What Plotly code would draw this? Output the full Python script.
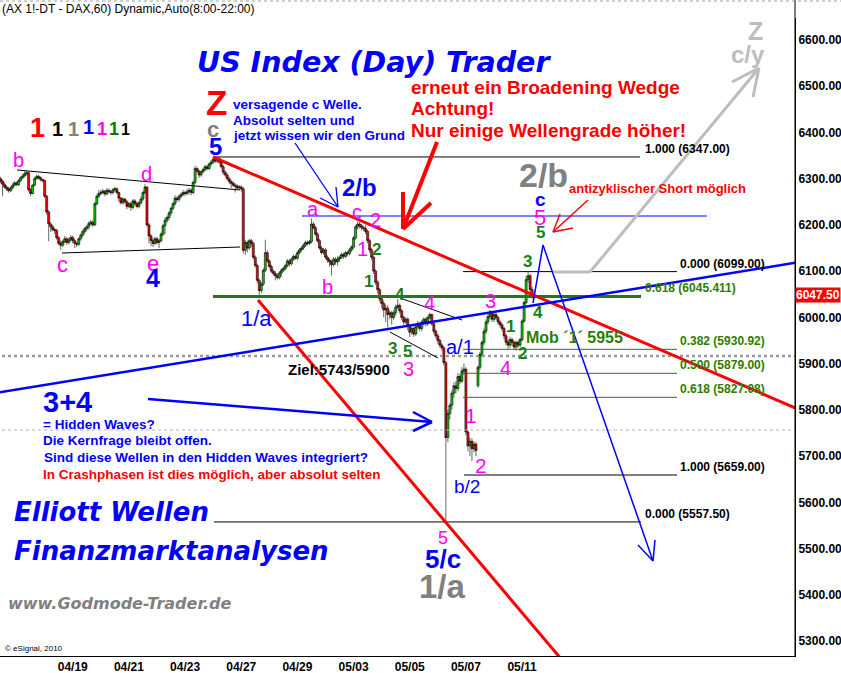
import plotly.graph_objects as go

# ---------------- data (hourly FDAX candles, 8:00-22:00, 14 bars/day) ----------------
DAYS = ["04/15", "04/16", "04/19", "04/20", "04/21", "04/22", "04/23", "04/26", "04/27",
        "04/28", "04/29", "04/30", "05/03", "05/04", "05/05", "05/06", "05/07", "05/10", "05/11"]
BARS_PER_DAY = 14

OPEN = [
    6300, 6295, 6288, 6282, 6278, 6274, 6280, 6286, 6291, 6287, 6296, 6302, 6306, 6311,
    6313, 6276, 6268, 6286, 6300, 6305, 6302, 6298, 6296, 6262, 6228, 6202, 6196, 6190,
    6188, 6172, 6160, 6156, 6164, 6170, 6162, 6168, 6173, 6166, 6160, 6158, 6170, 6178,
    6186, 6192, 6196, 6203, 6206, 6200, 6246, 6262, 6268, 6270, 6273, 6267, 6275, 6272,
    6270, 6276, 6278, 6270, 6258, 6248, 6256, 6250, 6240, 6246, 6238, 6252, 6246, 6240,
    6248, 6256, 6270, 6282, 6200, 6176, 6166, 6160, 6170, 6162, 6166, 6180, 6198, 6210,
    6216, 6226, 6236, 6246, 6258, 6255, 6262, 6266, 6270, 6268, 6272, 6275, 6270, 6292,
    6322, 6316, 6308, 6315, 6320, 6326, 6322, 6332, 6336, 6342, 6338, 6344, 6336, 6326,
    6314, 6308, 6300, 6294, 6290, 6286, 6284, 6280, 6282, 6278, 6145, 6162, 6150, 6166,
    6160, 6130, 6112, 6080, 6058, 6072, 6102, 6140, 6122, 6110, 6100, 6095, 6090, 6086,
    6096, 6102, 6106, 6112, 6122, 6116, 6126, 6132, 6128, 6140, 6146, 6150, 6156, 6162,
    6160, 6164, 6202, 6194, 6180, 6166, 6150, 6140, 6146, 6130, 6124, 6120, 6114, 6126,
    6120, 6126, 6130, 6136, 6132, 6140, 6138, 6146, 6152, 6172, 6196, 6202, 6198, 6194,
    6192, 6186, 6166, 6146, 6130, 6100, 6076, 6060, 6040, 6030, 6016, 6020, 6006, 6010,
    6000, 6010, 6022, 6026, 6014, 6000, 5990, 5996, 5980, 5968, 5976, 5964, 5980, 5986,
    5976, 5990, 5996, 5986, 6000, 6006, 5986, 5970, 5960, 5950, 5940, 5934, 5902, 5740,
    5792, 5810, 5836, 5852, 5846, 5872, 5862, 5884, 5888, 5752, 5722, 5732, 5716, 5726,
    5852, 5892, 5920, 5946, 5970, 5990, 6002, 6012, 5996, 6006, 6000, 5990, 5984, 5976,
    5960, 5946, 5940, 5952, 5946, 5936, 5946, 5940, 5952, 5992, 6032, 6082, 6090, 6060,
]
HIGH = [
    6304, 6298, 6292, 6286, 6282, 6284, 6290, 6295, 6294, 6299, 6305, 6310, 6316, 6317,
    6315, 6280, 6288, 6304, 6309, 6308, 6305, 6300, 6298, 6265, 6232, 6206, 6200, 6194,
    6192, 6176, 6166, 6168, 6176, 6174, 6172, 6178, 6177, 6170, 6164, 6174, 6182, 6190,
    6196, 6200, 6208, 6211, 6210, 6250, 6266, 6275, 6276, 6278, 6276, 6280, 6279, 6276,
    6280, 6282, 6281, 6272, 6260, 6260, 6258, 6254, 6250, 6250, 6256, 6256, 6250, 6252,
    6262, 6274, 6288, 6284, 6204, 6180, 6172, 6174, 6174, 6170, 6184, 6202, 6216, 6220,
    6230, 6240, 6250, 6264, 6262, 6266, 6270, 6276, 6274, 6278, 6280, 6279, 6296, 6328,
    6326, 6320, 6318, 6324, 6330, 6330, 6335, 6340, 6346, 6347, 6347, 6346, 6340, 6330,
    6318, 6312, 6304, 6298, 6294, 6290, 6288, 6286, 6286, 6282, 6168, 6166, 6170, 6170,
    6164, 6134, 6116, 6084, 6076, 6106, 6168, 6145, 6126, 6114, 6104, 6100, 6094, 6100,
    6106, 6110, 6116, 6126, 6126, 6130, 6136, 6136, 6144, 6150, 6154, 6160, 6166, 6166,
    6168, 6214, 6206, 6198, 6184, 6170, 6154, 6150, 6150, 6134, 6128, 6124, 6130, 6130,
    6132, 6134, 6140, 6140, 6144, 6144, 6150, 6156, 6176, 6200, 6207, 6206, 6202, 6198,
    6200, 6190, 6170, 6150, 6134, 6104, 6080, 6064, 6046, 6036, 6028, 6026, 6016, 6014,
    6016, 6028, 6040, 6030, 6018, 6004, 6000, 6000, 5984, 5980, 5980, 5984, 5992, 5990,
    5994, 6000, 6000, 6004, 6010, 6008, 5990, 5974, 5964, 5954, 5944, 5938, 5906, 5800,
    5815, 5842, 5860, 5862, 5880, 5878, 5892, 5900, 5892, 5756, 5740, 5738, 5732, 5730,
    5896, 5926, 5950, 5976, 5996, 6008, 6016, 6014, 6010, 6010, 6004, 5994, 5988, 5980,
    5964, 5952, 5958, 5956, 5950, 5950, 5950, 5956, 5996, 6036, 6090, 6099, 6094, 6066,
]
LOW = [
    6290, 6262, 6279, 6274, 6270, 6271, 6277, 6283, 6284, 6284, 6293, 6299, 6303, 6307,
    6272, 6262, 6266, 6284, 6298, 6298, 6294, 6292, 6258, 6222, 6165, 6185, 6186, 6180,
    6168, 6156, 6146, 6152, 6160, 6157, 6158, 6164, 6160, 6150, 6152, 6155, 6166, 6174,
    6180, 6186, 6190, 6198, 6196, 6198, 6242, 6258, 6264, 6266, 6262, 6264, 6268, 6265,
    6266, 6272, 6266, 6250, 6244, 6244, 6246, 6234, 6236, 6230, 6234, 6242, 6236, 6236,
    6244, 6252, 6266, 6196, 6160, 6154, 6152, 6156, 6158, 6150, 6162, 6176, 6180, 6204,
    6210, 6220, 6232, 6242, 6250, 6250, 6258, 6262, 6262, 6264, 6266, 6264, 6266, 6288,
    6312, 6302, 6304, 6312, 6316, 6318, 6318, 6328, 6332, 6334, 6334, 6332, 6322, 6308,
    6304, 6296, 6288, 6280, 6282, 6270, 6276, 6276, 6272, 6138, 6135, 6140, 6146, 6152,
    6126, 6108, 6074, 6043, 6052, 6068, 6098, 6118, 6106, 6096, 6090, 6080, 6082, 6082,
    6088, 6098, 6102, 6108, 6110, 6112, 6122, 6124, 6124, 6136, 6142, 6146, 6152, 6155,
    6156, 6160, 6190, 6176, 6162, 6146, 6136, 6136, 6126, 6118, 6110, 6091, 6110, 6114,
    6112, 6120, 6126, 6126, 6128, 6132, 6134, 6142, 6148, 6168, 6190, 6192, 6188, 6186,
    6180, 6160, 6140, 6124, 6094, 6070, 6052, 6034, 6020, 6000, 5990, 5978, 5996, 5984,
    5994, 6004, 6018, 6008, 5994, 5984, 5986, 5972, 5957, 5962, 5958, 5960, 5974, 5970,
    5970, 5984, 5980, 5982, 5996, 5982, 5964, 5954, 5942, 5934, 5928, 5896, 5557.5, 5730,
    5780, 5800, 5826, 5836, 5840, 5856, 5858, 5876, 5745, 5710, 5700, 5689, 5708, 5700,
    5848, 5886, 5914, 5940, 5964, 5984, 5996, 5990, 5990, 5994, 5984, 5978, 5970, 5952,
    5940, 5930, 5934, 5938, 5930, 5928, 5934, 5936, 5948, 5988, 6028, 6074, 6052, 6040,
]
CLOSE = [
    6295, 6288, 6282, 6278, 6274, 6280, 6286, 6291, 6287, 6296, 6302, 6306, 6311, 6313,
    6276, 6268, 6286, 6300, 6305, 6302, 6298, 6296, 6262, 6228, 6202, 6196, 6190, 6188,
    6172, 6160, 6156, 6164, 6170, 6162, 6168, 6173, 6166, 6160, 6158, 6170, 6178, 6186,
    6192, 6196, 6203, 6206, 6200, 6246, 6262, 6268, 6270, 6273, 6267, 6275, 6272, 6270,
    6276, 6278, 6270, 6258, 6248, 6256, 6250, 6240, 6246, 6238, 6252, 6246, 6240, 6248,
    6256, 6270, 6282, 6200, 6176, 6166, 6160, 6170, 6162, 6166, 6180, 6198, 6210, 6216,
    6226, 6236, 6246, 6258, 6255, 6262, 6266, 6270, 6268, 6272, 6275, 6270, 6292, 6322,
    6316, 6308, 6315, 6320, 6326, 6322, 6332, 6336, 6342, 6338, 6344, 6336, 6326, 6314,
    6308, 6300, 6294, 6290, 6286, 6284, 6280, 6282, 6278, 6145, 6162, 6150, 6166, 6160,
    6130, 6112, 6080, 6058, 6072, 6102, 6140, 6122, 6110, 6100, 6095, 6090, 6086, 6096,
    6102, 6106, 6112, 6122, 6116, 6126, 6132, 6128, 6140, 6146, 6150, 6156, 6162, 6160,
    6164, 6202, 6194, 6180, 6166, 6150, 6140, 6146, 6130, 6124, 6120, 6114, 6126, 6120,
    6126, 6130, 6136, 6132, 6140, 6138, 6146, 6152, 6172, 6196, 6202, 6198, 6194, 6192,
    6186, 6166, 6146, 6130, 6100, 6076, 6060, 6040, 6030, 6016, 6020, 6006, 6010, 6000,
    6010, 6022, 6026, 6014, 6000, 5990, 5996, 5980, 5968, 5976, 5964, 5980, 5986, 5976,
    5990, 5996, 5986, 6000, 6006, 5986, 5970, 5960, 5950, 5940, 5934, 5902, 5740, 5792,
    5810, 5836, 5852, 5846, 5872, 5862, 5884, 5888, 5752, 5722, 5732, 5716, 5726, 5712,
    5892, 5920, 5946, 5970, 5990, 6002, 6012, 5996, 6006, 6000, 5990, 5984, 5976, 5960,
    5946, 5940, 5952, 5946, 5936, 5946, 5940, 5952, 5992, 6032, 6082, 6090, 6060, 6047.5,
]

X_TICK_LABELS = ["04/19", "04/21", "04/23", "04/27", "04/29", "05/03", "05/05", "05/07", "05/11"]
Y_TICKS = [5300, 5400, 5500, 5600, 5700, 5800, 5900, 6000, 6100, 6200, 6300, 6400, 6500, 6600]
LAST_PRICE = 6047.50

FIB_LEVELS = [6347.00, 6099.00, 6045.411, 5930.92, 5879.00, 5827.08, 5659.00, 5557.50]
FIB_TEXTS = ["1.000 (6347.00)", "0.000 (6099.00)", "0.618 (6045.411)", "0.382 (5930.92)",
             "0.500 (5879.00)", "0.618 (5827.08)", "1.000 (5659.00)", "0.000 (5557.50)"]

# ---------------- geometry helpers (screen position -> data coordinates) ----------------
PX_PER_BAR = 2.006
BAR0_PX = 0.54
PX_PER_PT = 0.4623


def X(px):
    return (px - BAR0_PX) / PX_PER_BAR


def Y(py):
    return 6600 - (py - 40) / PX_PER_PT


ARIAL = "Liberation Sans, Arial, sans-serif"
VERD = "DejaVu Sans, Verdana, sans-serif"
RED = "#ff0000"
BLUE = "#0000ff"
MAG = "#ff00ff"
GRN = "#1a7f1a"
FGRN = "#2e7d00"
GRAY = "#808080"
LGRAY = "#bdbdbd"

xs = list(range(len(CLOSE)))
tickvals = [DAYS.index(d) * BARS_PER_DAY + 8 for d in X_TICK_LABELS]

fig = go.Figure()
fig.add_trace(go.Candlestick(
    x=xs, open=OPEN, high=HIGH, low=LOW, close=CLOSE,
    increasing=dict(fillcolor="#00d000", line=dict(color="black", width=0.6)),
    decreasing=dict(fillcolor="#ff0000", line=dict(color="black", width=0.6)),
    whiskerwidth=0, showlegend=False, hoverinfo="skip",
))

shapes = []


def L(p1, p2, color, width, dash="solid"):
    shapes.append(dict(type="line", xref="x", yref="y",
                       x0=X(p1[0]), y0=Y(p1[1]), x1=X(p2[0]), y1=Y(p2[1]),
                       line=dict(color=color, width=width, dash=dash), layer="above"))


def HL(level, px0, px1, color, width, dash="solid"):
    shapes.append(dict(type="line", xref="x", yref="y",
                       x0=X(px0), y0=level, x1=X(px1), y1=level,
                       line=dict(color=color, width=width, dash=dash), layer="above"))


# horizontal reference lines
HL(Y(356), -10, 900, "#9a9a9a", 2.5, "dot")
HL(Y(430), -10, 900, "#b4b4b4", 1, "dot")
HL(Y(216), 302, 707, BLUE, 1)

fib_spans = [(213, 640), (463, 677), (213, 641), (463, 677), (463, 677), (463, 677), (464, 677), (214, 641)]
fib_colors = ["black", "black", "#1f7a1f", "#1f7a1f", "#1f7a1f", "#1f7a1f", "black", "black"]
fib_widths = [1, 1, 3, 1, 1, 1, 1, 1]
for lvl, (a, b), col, w in zip(FIB_LEVELS, fib_spans, fib_colors, fib_widths):
    HL(lvl, a, b, col, w)

# triangle / wedge lines
L((17, 170), (240, 190), "black", 1)
L((62, 253), (240, 247), "black", 1)
L((400, 298), (462, 320), "black", 1)
L((390, 332), (438, 358), "black", 1)

# red trend lines
L((213, 157), (800, 410), RED, 3)
L((258, 300), (562, 660), RED, 3)
# blue rising trend line
L((-5, 393), (800, 262), BLUE, 2.5)

# blue arrow towards hidden waves
L((148, 399), (432, 422), BLUE, 2.5)
L((413, 412), (432, 422), BLUE, 2.5)
L((413, 431), (432, 422), BLUE, 2.5)

# thin blue arrow from comment to 2/b
L((295, 143), (338, 207), BLUE, 1.3)
L((320, 198), (338, 207), BLUE, 1.3)
L((336, 187), (338, 207), BLUE, 1.3)

# big red arrow
L((437, 142), (403, 229), RED, 4)
L((403, 192), (403, 229), RED, 4)
L((431, 203), (403, 229), RED, 4)

# small red arrow
L((588, 200), (553, 232), RED, 1.5)
L((560, 214), (553, 232), RED, 1.5)
L((573, 228), (553, 232), RED, 1.5)

# blue projected zigzag
L((533, 303), (543, 245), BLUE, 1.5)
L((543, 245), (653, 561), BLUE, 1.5)
L((638, 545), (653, 561), BLUE, 1.5)
L((655, 540), (653, 561), BLUE, 1.5)

# grey projected arrow
L((553, 272), (590, 272), LGRAY, 3)
L((590, 272), (759, 68), LGRAY, 3)
L((732, 82), (759, 68), LGRAY, 3)
L((753, 97), (759, 68), LGRAY, 3)

# frame lines in paper space
PLOT_H = 638
shapes.append(dict(type="line", xref="paper", yref="paper", x0=1, x1=1, y0=0, y1=1 + 18 / PLOT_H,
                   line=dict(color="black", width=1)))
shapes.append(dict(type="line", xref="paper", yref="paper", x0=0, x1=841 / 795, y0=1 + 17 / PLOT_H,
                   y1=1 + 17 / PLOT_H, line=dict(color="#a0a0a0", width=1, dash="dot")))

ann = []


def T(px, py, text, color, size, bold=True, italic=False, family=ARIAL, xanchor="center"):
    t = text
    if bold:
        t = "<b>" + t + "</b>"
    if italic:
        t = "<i>" + t + "</i>"
    ann.append(dict(x=X(px), y=Y(py), xref="x", yref="y", text=t, showarrow=False,
                    font=dict(family=family, size=size, color=color),
                    xanchor=xanchor, yanchor="middle"))


# titles
T(374, 62, "US Index (Day) Trader", BLUE, 28.5, True, True, VERD)
T(12, 512, "Elliott Wellen", BLUE, 26, True, True, VERD, "left")
T(12, 551, "Finanzmarktanalysen", BLUE, 26, True, True, VERD, "left")
T(6, 603, "www.Godmode-Trader.de", GRAY, 16, True, True, VERD, "left")

# comment blocks
T(216, 102, "Z", RED, 35)
T(213, 129, "c", GRAY, 22)
T(215, 146, "5", BLUE, 24)
T(231, 104, "versagende c Welle.", BLUE, 13.5, xanchor="left")
T(231, 120, "Absolut selten und", BLUE, 13.5, xanchor="left")
T(231, 135, "jetzt wissen wir den Grund", BLUE, 13.5, xanchor="left")
T(409, 87, "erneut ein Broadening Wedge", RED, 19, xanchor="left")
T(409, 108, "Achtung!", RED, 19, xanchor="left")
T(409, 130, "Nur einige Wellengrade höher!", RED, 19, xanchor="left")

T(67, 402, "3+4", BLUE, 29)
T(41, 424, "= Hidden Waves?", BLUE, 13.5, xanchor="left")
T(41, 440, "Die Kernfrage bleibt offen.", BLUE, 13.5, xanchor="left")
T(42, 457, "Sind diese Wellen in den Hidden Waves integriert?", BLUE, 13.5, xanchor="left")
T(41, 474, "In Crashphasen ist dies möglich, aber absolut selten", RED, 13.5, xanchor="left")

T(286, 369, "Ziel:5743/5900", "black", 15, xanchor="left")
T(524, 337, "Mob ´1´ 5955", FGRN, 16, xanchor="left")
T(567, 188, "antizyklischer Short möglich", RED, 13, xanchor="left")

# degree legend
T(37, 128, "1", RED, 27)
T(57, 129, "1", "black", 20)
T(73, 129, "1", GRAY, 20)
T(88, 127, "1", BLUE, 20)
T(102, 129, "1", MAG, 18)
T(114, 129, "1", "#008000", 18)
T(125, 129, "1", "black", 16)

# wave labels
for txt, px, py, col, sz, b in [
    ("b", 18, 160, MAG, 20, False), ("c", 62, 264, MAG, 22, False),
    ("d", 146, 174, MAG, 20, False), ("e", 153, 263, MAG, 22, False),
    ("4", 153, 278, BLUE, 25, True), ("1/a", 256, 318, BLUE, 22, False),
    ("a", 313, 209, MAG, 20, False), ("b", 327, 287, MAG, 20, False),
    ("c", 357, 212, MAG, 20, False), ("2", 375, 220, MAG, 20, False),
    ("1", 362, 249, MAG, 20, False), ("2", 376, 249, GRN, 17, True),
    ("1", 368, 281, GRN, 17, True), ("4", 400, 294, GRN, 17, True),
    ("4", 429, 303, MAG, 20, False), ("3", 392, 348, GRN, 17, True),
    ("5", 407, 351, GRN, 17, True), ("3", 408, 369, MAG, 20, False),
    ("a/1", 460, 347, BLUE, 20, False), ("3", 490, 301, MAG, 20, False),
    ("1", 510, 326, GRN, 17, True), ("2", 522, 353, GRN, 17, True),
    ("4", 505, 368, MAG, 20, False), ("1", 471, 415, MAG, 21, False),
    ("2", 481, 465, MAG, 21, False), ("b/2", 467, 486, BLUE, 19, False),
    ("3", 527, 261, GRN, 17, True), ("4", 538, 312, GRN, 17, True),
    ("5", 540, 232, GRN, 17, True), ("5", 540, 217, MAG, 22, False),
    ("c", 540, 199, BLUE, 19, True), ("2/b", 543, 175, GRAY, 34, True),
    ("2/b", 359, 187, BLUE, 24, True),
    ("5", 443, 538, MAG, 18, False), ("5/c", 443, 559, BLUE, 26, True),
    ("1/a", 442, 586, GRAY, 33, True),
    ("Z", 755, 31, LGRAY, 25, True), ("c/y", 748, 54, LGRAY, 24, True),
]:
    T(px, py, txt, col, sz, b)

# fibonacci labels
fib_label_px = [643, 678, 643, 678, 678, 678, 678, 643]
fib_label_col = ["black", "black", FGRN, FGRN, FGRN, FGRN, "black", "black"]
for lvl, txt, lpx, col in zip(FIB_LEVELS, FIB_TEXTS, fib_label_px, fib_label_col):
    ann.append(dict(x=X(lpx), y=lvl, xref="x", yref="y", text="<b>" + txt + "</b>", showarrow=False,
                    font=dict(family=ARIAL, size=12, color=col), xanchor="left", yanchor="middle",
                    yshift=8))

# header & copyright
ann.append(dict(x=0, y=1 + 9 / PLOT_H, xref="paper", yref="paper", xanchor="left", yanchor="middle",
                text="(AX 1!-DT - DAX,60) Dynamic,Auto(8:00-22:00)", showarrow=False,
                font=dict(family=ARIAL, size=12, color="black")))
ann.append(dict(x=3 / 795, y=Y(648), xref="paper", yref="y", xanchor="left", yanchor="middle",
                text="© eSignal, 2010", showarrow=False, font=dict(family=ARIAL, size=8, color="black")))
# last price box
ann.append(dict(x=1, y=LAST_PRICE, xref="paper", yref="y", xanchor="left", yanchor="middle",
                xshift=0, text="<b>%.2f</b>" % LAST_PRICE, showarrow=False, bgcolor=RED,
                borderpad=0, font=dict(family=ARIAL, size=12, color="white")))

fig.update_layout(
    width=841, height=673,
    margin=dict(l=0, r=46, t=18, b=17),
    paper_bgcolor="white", plot_bgcolor="white",
    shapes=shapes, annotations=ann,
    showlegend=False,
    boxgap=0, boxgroupgap=0,
    xaxis=dict(range=[X(0), X(795)], rangeslider=dict(visible=False), showgrid=False, zeroline=False,
               showline=True, linecolor="black", linewidth=1, tickvals=tickvals, ticktext=X_TICK_LABELS,
               ticks="", tickfont=dict(family=ARIAL, size=12, color="black", weight="bold")),
    yaxis=dict(range=[Y(656), Y(18)], side="right", showgrid=False, zeroline=False,
               showline=True, linecolor="black", linewidth=1, tickvals=Y_TICKS,
               ticktext=["%.2f" % v for v in Y_TICKS], ticks="",
               tickfont=dict(family=ARIAL, size=12, color="black", weight="bold")),
)

fig.write_html("out.html", config={"displayModeBar": False},
               post_script="document.body.style.margin='0px';document.body.style.padding='0px';")
